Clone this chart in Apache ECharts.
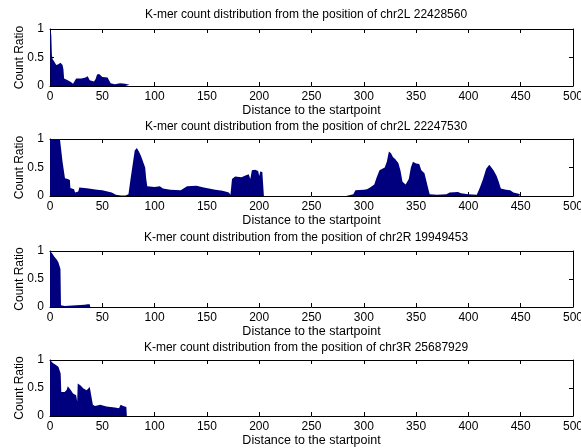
<!DOCTYPE html>
<html>
<head>
<meta charset="utf-8">
<script src="https://cdn.jsdelivr.net/npm/echarts@6/dist/echarts.min.js"></script>
<style>
  html, body { margin: 0; padding: 0; background: #fff; }
  #main { width: 581px; height: 448px; }
</style>
</head>
<body>
<div id="main"></div>
<script>
// panel titles
var titles = [
  'K-mer count distribution from the position of chr2L 22428560',
  'K-mer count distribution from the position of chr2L 22247530',
  'K-mer count distribution from the position of chr2R 19949453',
  'K-mer count distribution from the position of chr3R 25687929'
];
var xTicks = [0, 50, 100, 150, 200, 250, 300, 350, 400, 450, 500];
var yTicks = [0, 0.5, 1];

// chr2L 22428560
var p1x = [0, 0.5, 1.2, 1.8, 2.5, 4, 6, 8, 10, 12, 12.8, 13.5, 16, 20, 22, 23.5, 25, 30, 34, 36, 37, 38, 42, 43.5, 45, 47, 50, 55, 56.5, 58, 62, 67, 72, 76, 77];
var p1y = [1, 0.98, 0.9, 0.55, 0.47, 0.43, 0.37, 0.38, 0.41, 0.37, 0.3, 0.13, 0.11, 0.07, 0.04, 0.05, 0.13, 0.13, 0.15, 0.17, 0.14, 0.1, 0.08, 0.12, 0.2, 0.21, 0.16, 0.15, 0.13, 0.05, 0.03, 0.05, 0.04, 0.02, 0];

// chr2L 22247530
var p2x = [0, 9.5, 12, 14.3, 17, 19, 19.5, 23, 24, 27, 28, 33, 37, 45, 50, 55, 59, 63, 68, 72, 75, 77, 79, 81, 83, 85, 87, 89, 91, 92, 93, 100, 105, 108, 115, 125, 131, 140, 147, 152, 158, 165, 171, 172.5, 174, 177, 183, 188, 190, 191.5, 193, 196, 199, 200, 201, 203, 204,
  204.5, 283,
  284, 290, 292, 300, 303, 306, 310, 312, 315, 320, 322, 324, 326, 328, 330, 333, 335, 337, 340, 343, 345, 347, 350, 353, 355, 358, 360, 362, 363, 370, 379, 382, 390, 393, 400, 408, 411, 414, 417, 420, 422, 424, 427, 429, 431, 436, 440, 443, 448, 450, 451];
var p2y = [1, 1, 0.6, 0.31, 0.3, 0.28, 0.14, 0.12, 0.06, 0.08, 0.15, 0.14, 0.13, 0.11, 0.1, 0.08, 0.06, 0.02, 0.01, 0.01, 0.03, 0.3, 0.55, 0.8, 0.84, 0.78, 0.7, 0.6, 0.5, 0.3, 0.17, 0.16, 0.17, 0.13, 0.11, 0.1, 0.17, 0.18, 0.15, 0.13, 0.11, 0.09, 0.06, 0.02, 0.3, 0.34, 0.33, 0.37, 0.38, 0.3, 0.45, 0.46, 0.44, 0.35, 0.43, 0.42, 0.42,
  0, 0,
  0.02, 0.03, 0.1, 0.11, 0.12, 0.15, 0.2, 0.31, 0.45, 0.5, 0.6, 0.78, 0.75, 0.68, 0.65, 0.58, 0.45, 0.25, 0.2, 0.3, 0.5, 0.6, 0.57, 0.56, 0.45, 0.4, 0.25, 0.1, 0.03, 0.02, 0.03, 0.06, 0.07, 0.05, 0.03, 0.02, 0.15, 0.3, 0.48, 0.55, 0.5, 0.45, 0.35, 0.25, 0.13, 0.11, 0.1, 0.06, 0.04, 0.02, 0];

// chr2R 19949453
var p3x = [0, 2, 4, 6.4, 8, 9.6, 10, 10.5, 11, 14, 25, 33, 36, 38, 38.5];
var p3y = [1, 0.96, 0.9, 0.85, 0.8, 0.77, 0.68, 0.03, 0.02, 0.02, 0.03, 0.04, 0.05, 0.05, 0];

// chr3R 25687929
var p4x = [0, 1.5, 3, 5, 8, 9.8, 10.2, 10.8, 14, 16, 17, 18, 20, 22, 25, 26, 26.5, 29, 32, 35, 36, 38, 39.5, 41, 43, 48, 54, 62, 66, 67.5, 69, 70, 73, 73.5];
var p4y = [1, 0.97, 0.94, 0.92, 0.88, 0.85, 0.76, 0.43, 0.43, 0.47, 0.53, 0.5, 0.46, 0.4, 0.37, 0.26, 0.58, 0.55, 0.49, 0.46, 0.49, 0.52, 0.5, 0.2, 0.18, 0.2, 0.17, 0.15, 0.14, 0.2, 0.22, 0.18, 0.16, 0];

var panels = [[p1x, p1y], [p2x, p2y], [p3x, p3y], [p4x, p4y]];
var tops = [29, 139, 251, 360];
var heights = [57, 57, 56, 56];
var titleTops = [9, 121, 232, 342];
var fill = '#00007f';
var font = 'Liberation Sans, Arial, sans-serif';

function zip(xs, ys) {
  var out = [];
  for (var i = 0; i < xs.length; i++) out.push([xs[i], ys[i]]);
  return out;
}

var grid = [], xAxis = [], yAxis = [], series = [], title = [];
panels.forEach(function (p, k) {
  grid.push({ left: 50, right: 8, top: tops[k], height: heights[k], outerBoundsMode: 'none' });
  title.push({
    text: titles[k], left: 306, top: titleTops[k], textAlign: 'center', padding: 0,
    textStyle: { fontFamily: font, fontSize: 12, fontWeight: 'normal', color: '#000' }
  });
  var axLine = { show: true, onZero: false, lineStyle: { color: '#000', width: 1 } };
  var tick = { show: true, inside: true, length: 4, lineStyle: { color: '#000' } };
  // bottom + top x axes
  xAxis.push({
    gridIndex: k, type: 'value', min: 0, max: 500, interval: xTicks[1] - xTicks[0],
    axisLine: axLine, axisTick: tick, splitLine: { show: false },
    axisLabel: { color: '#000', fontFamily: font, fontSize: 12, margin: 5 },
    name: 'Distance to the startpoint', nameLocation: 'middle', nameGap: 18,
    nameTextStyle: { color: '#000', fontFamily: font, fontSize: 12.5 }
  });
  xAxis.push({
    gridIndex: k, type: 'value', min: 0, max: 500, interval: 50, position: 'top',
    axisLine: axLine, axisTick: tick, splitLine: { show: false }, axisLabel: { show: false }
  });
  // left + right y axes
  yAxis.push({
    gridIndex: k, type: 'value', min: yTicks[0], max: yTicks[2], interval: 0.5,
    axisLine: axLine, axisTick: tick, splitLine: { show: false },
    axisLabel: { color: '#000', fontFamily: font, fontSize: 12, margin: 6 },
    name: 'Count Ratio', nameLocation: 'middle', nameGap: 24, nameRotate: 90,
    nameMoveOverlap: false,
    nameTextStyle: { color: '#000', fontFamily: font, fontSize: 12 }
  });
  yAxis.push({
    gridIndex: k, type: 'value', min: 0, max: 1, interval: 0.5, position: 'right',
    axisLine: axLine, axisTick: tick, splitLine: { show: false }, axisLabel: { show: false }
  });
  series.push({
    type: 'line', xAxisIndex: 2 * k, yAxisIndex: 2 * k,
    data: zip(p[0], p[1]), symbol: 'none', animation: false,
    lineStyle: { width: 0, color: fill }, areaStyle: { color: fill, opacity: 1 }
  });
});

var chart = echarts.init(document.getElementById('main'));
chart.setOption({
  animation: false,
  title: title,
  grid: grid,
  xAxis: xAxis,
  yAxis: yAxis,
  series: series
});
</script>
</body>
</html>
